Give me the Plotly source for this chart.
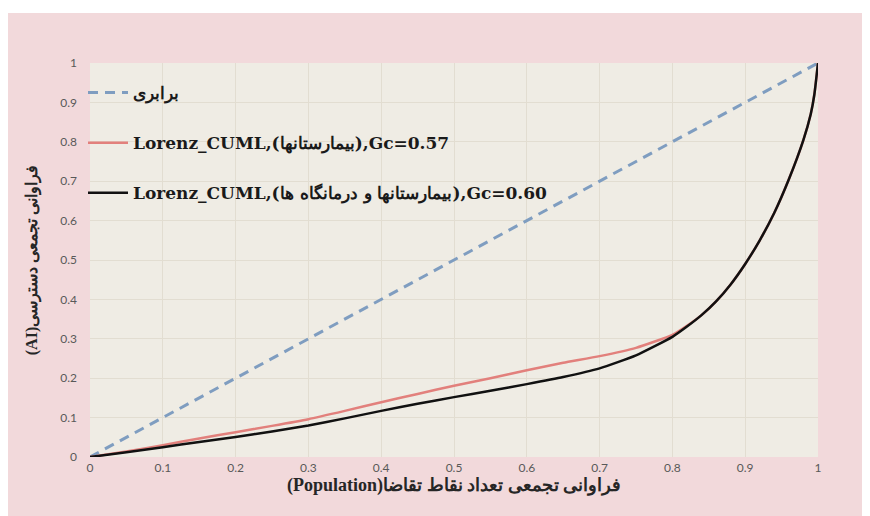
import plotly.graph_objects as go

# ---- data ----
x_equal = [0, 1]
y_equal = [0, 1]

x_lorenz = [0, 0.05, 0.1, 0.15, 0.2, 0.25, 0.3, 0.35, 0.4, 0.45, 0.5, 0.55, 0.6, 0.65,
            0.7, 0.75, 0.8, 0.82, 0.84, 0.86, 0.88, 0.9, 0.92, 0.94, 0.96, 0.98,
            0.99, 0.995, 1.0]
y_hosp = [0, 0.014, 0.03, 0.047, 0.063, 0.079, 0.096, 0.117, 0.139, 0.16, 0.181, 0.2,
          0.22, 0.239, 0.256, 0.277, 0.31, 0.333, 0.36, 0.395, 0.438, 0.49, 0.55,
          0.62, 0.705, 0.805, 0.87, 0.92, 1.0]
y_hosp_clinic = [0, 0.012, 0.025, 0.038, 0.051, 0.065, 0.08, 0.098, 0.117, 0.135, 0.152,
                 0.168, 0.185, 0.203, 0.225, 0.258, 0.305, 0.331, 0.36, 0.395, 0.438,
                 0.49, 0.55, 0.62, 0.705, 0.805, 0.87, 0.92, 1.0]

name_equal = "برابری"
name_hosp = "Lorenz_CUML,(بیمارستانها),Gc=0.57"
name_hosp_clinic = "Lorenz_CUML,(بیمارستانها و درمانگاه ها),Gc=0.60"

x_title = "\u202bفراوانی تجمعی تعداد نقاط تقاضا(Population)\u202c"
y_title = "\u202bفراوانی تجمعی دسترسی(AI)\u202c"

# ---- figure (page body adds an 8px white margin) ----
W, H = 862, 508
L, R, T, B = 82, 52, 55, 59
pw, ph = W - L - R, H - T - B

fig = go.Figure()
fig.add_trace(go.Scatter(x=x_equal, y=y_equal, mode="lines", name="<b>" + name_equal + "</b>",
                         legendgroup="a",
                         line=dict(color="#7f9dc0", width=3, dash="10px,7px")))
fig.add_trace(go.Scatter(x=x_lorenz, y=y_hosp, mode="lines", name="<b>" + name_hosp + "</b>",
                         legendgroup="b",
                         line=dict(color="#e2807c", width=2.5, shape="spline", smoothing=0.5)))
fig.add_trace(go.Scatter(x=x_lorenz, y=y_hosp_clinic, mode="lines",
                         name="<b>" + name_hosp_clinic + "</b>",
                         legendgroup="c",
                         line=dict(color="#111111", width=2.5, shape="spline", smoothing=0.5)))

pink = "#f2d9db"
fig.update_layout(
    width=W, height=H,
    margin=dict(l=L, r=R, t=T, b=B, pad=0),
    paper_bgcolor=pink,
    plot_bgcolor="#efece4",
    showlegend=True,
    legend=dict(x=-7 / pw, y=(H - B - 67) / ph, xanchor="left", yanchor="top",
                bgcolor="rgba(0,0,0,0)", tracegroupgap=25,
                font=dict(family="DejaVu Serif", size=17, color="#1a1a1a"),
                itemwidth=40),
    xaxis=dict(range=[0, 1], dtick=0.1, tick0=0, showgrid=True, gridcolor="#e2ddd1",
               gridwidth=1, zeroline=False, showline=False, ticks="",
               tickfont=dict(family="Lato", size=12, color="#595959"),
               ticklabelstandoff=2,
               title=dict(text="<b>" + x_title + "</b>", standoff=2,
                          font=dict(family="Liberation Serif", size=18, color="#262626"))),
    yaxis=dict(range=[0, 1], dtick=0.1, tick0=0, showgrid=True, gridcolor="#e2ddd1",
               gridwidth=1, zeroline=False, showline=False, ticks="",
               tickfont=dict(family="Lato", size=12, color="#595959"),
               ticklabelstandoff=12,
               title=dict(text="<b>" + y_title + "</b>", standoff=18,
                          font=dict(family="Liberation Serif", size=16, color="#262626"))),
    shapes=[
        dict(type="rect", xref="paper", yref="paper", layer="below",
             x0=-0.2, x1=1.2, y0=(H - B - 5) / ph, y1=1.3,
             fillcolor="white", line=dict(width=0)),
    ],
)

fig.write_html("out.html")
